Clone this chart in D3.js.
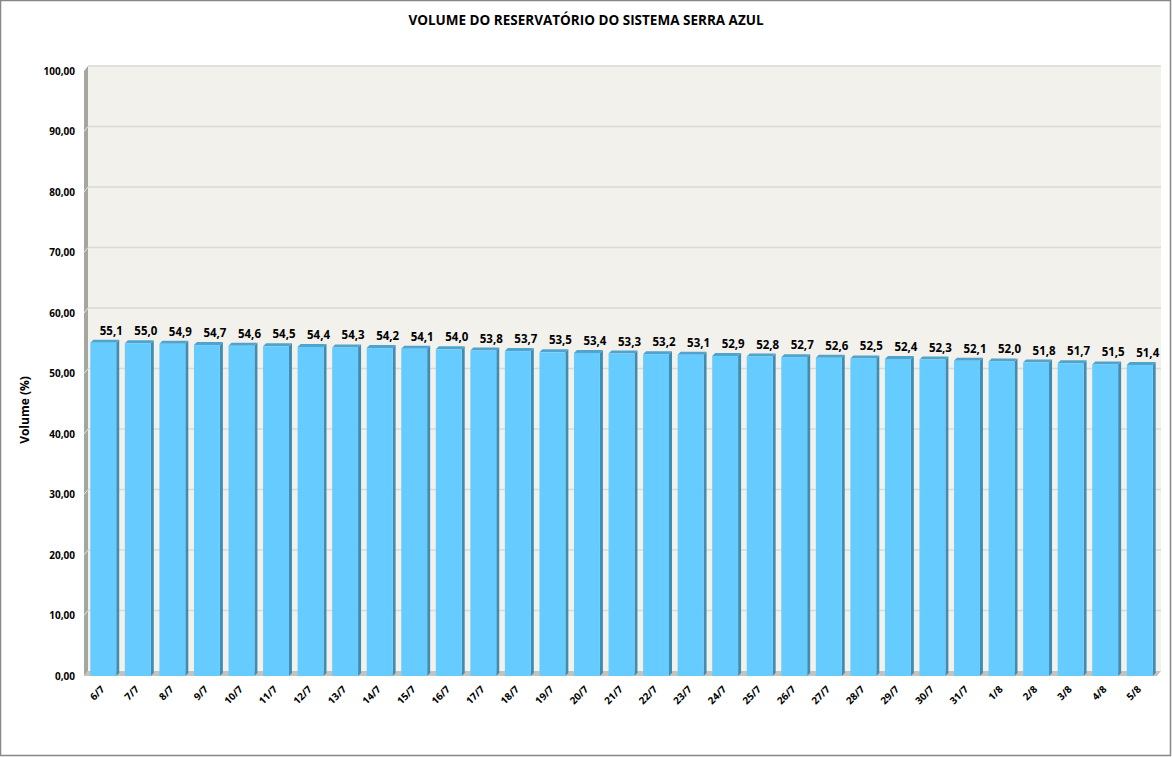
<!DOCTYPE html>
<html>
<head>
<meta charset="utf-8">
<script src="https://cdn.jsdelivr.net/npm/d3@7"></script>
<style>
  body { margin: 0; background: #fff; }
  svg { display: block; font-family: "Open Sans", "Liberation Sans", sans-serif; }
</style>
</head>
<body>
<svg width="1172" height="757"></svg>
<script>
// dados
const dias = ["6/7","7/7","8/7","9/7","10/7","11/7","12/7","13/7","14/7","15/7","16/7","17/7","18/7","19/7","20/7","21/7","22/7","23/7","24/7","25/7","26/7","27/7","28/7","29/7","30/7","31/7","1/8","2/8","3/8","4/8","5/8"];
const volumes = [55.1,55.0,54.9,54.7,54.6,54.5,54.4,54.3,54.2,54.1,54.0,53.8,53.7,53.5,53.4,53.3,53.2,53.1,52.9,52.8,52.7,52.6,52.5,52.4,52.3,52.1,52.0,51.8,51.7,51.5,51.4];
const ticksY = [0,10,20,30,40,50,60,70,80,90,100];

const svg = d3.select("svg");
const fmt = v => v.toFixed(2).replace(".", ",");
const fmt1 = v => v.toFixed(1).replace(".", ",");

// plano da frente
const x0 = 84, x1 = 1157, yb = 676, yt = 71;
const dx = 4, dy = -5;   // profundidade das paredes

const x = d3.scaleBand().domain(dias).range([86, 1157]).paddingInner(0.25).paddingOuter(0.125);
const y = d3.scaleLinear().domain([0, 100]).range([yb, yt]);

// borda externa
svg.append("rect")
    .attr("x", 0.5).attr("y", 0.5).attr("width", 1170).attr("height", 755)
    .style("fill", "#fff").style("stroke", "#878787").style("stroke-width", 1.5);

// titulo
svg.append("text")
    .attr("x", 586).attr("y", 25)
    .attr("text-anchor", "middle")
    .style("font-size", "13.5px").style("font-weight", "bold")
    .text("VOLUME DO RESERVATÓRIO DO SISTEMA SERRA AZUL");

// parede do fundo
svg.append("rect")
    .attr("x", x0 + dx).attr("y", y(100) + dy)
    .attr("width", x1 - x0).attr("height", yb - yt)
    .style("fill", "#F2F1EC");

// linhas de grade
svg.selectAll(".grade")
    .data(ticksY.filter(d => d > 0))
    .join("line")
    .attr("class", "grade")
    .attr("x1", x0 + dx).attr("x2", x1 + dx)
    .attr("y1", d => y(d) + dy).attr("y2", d => y(d) + dy)
    .style("stroke", "#D9D9D9").style("stroke-width", 1.5);

// parede lateral
svg.append("polygon")
    .attr("points", [[x0, y(100)], [x0 + dx, y(100) + dy], [x0 + dx, yb + dy], [x0, yb]].join(" "))
    .style("fill", "#A6A6A1");

// pequenas linhas de grade na parede lateral
svg.selectAll(".gradelat")
    .data(ticksY.filter(d => d > 0 && d < 100))
    .join("line")
    .attr("class", "gradelat")
    .attr("x1", x0).attr("x2", x0 + dx)
    .attr("y1", d => y(d)).attr("y2", d => y(d) + dy)
    .style("stroke", "#E6E6E6").style("stroke-width", 1);

// piso
svg.append("polygon")
    .attr("points", [[x0, yb], [x0 + dx, yb + dy], [x1 + dx, yb + dy], [x1, yb]].join(" "))
    .style("fill", "#C4C3BE");

// barras
const bd = 3, bdy = -3;
const barras = svg.selectAll(".barra")
    .data(volumes.map((v, i) => ({dia: dias[i], v: v})))
    .join("g")
    .attr("class", "barra");

barras.append("polygon")
    .attr("points", d => {
        const xr = x(d.dia) + x.bandwidth();
        return [[xr, y(d.v)], [xr + bd, y(d.v) + bdy], [xr + bd, yb + bdy], [xr, yb]].join(" ");
    })
    .style("fill", "#3F8DB3");

barras.append("polygon")
    .attr("points", d => {
        const xl = x(d.dia), xr = xl + x.bandwidth();
        return [[xl, y(d.v)], [xl + bd, y(d.v) + bdy], [xr + bd, y(d.v) + bdy], [xr, y(d.v)]].join(" ");
    })
    .style("fill", "#4FA3CC");

barras.append("rect")
    .attr("x", d => x(d.dia))
    .attr("y", d => y(d.v))
    .attr("width", x.bandwidth())
    .attr("height", d => yb - y(d.v))
    .style("fill", "#66CCFF");

// rotulos de valor
barras.append("text")
    .attr("x", d => x(d.dia) + x.bandwidth() / 2 + 8)
    .attr("y", d => y(d.v) - 8)
    .attr("text-anchor", "middle")
    .style("font-size", "11.5px").style("font-weight", "bold")
    .text(d => fmt1(d.v));

// eixo y
svg.selectAll(".roty")
    .data(ticksY)
    .join("text")
    .attr("class", "roty")
    .attr("x", 75)
    .attr("y", d => y(d) + 3.5)
    .attr("text-anchor", "end")
    .style("font-size", "10px").style("font-weight", "bold")
    .text(fmt);

// eixo x
svg.selectAll(".rotx")
    .data(dias)
    .join("text")
    .attr("class", "rotx")
    .attr("text-anchor", "end")
    .attr("transform", d => `translate(${x(d) + x.bandwidth() / 2 + 2},${yb + 14}) rotate(-45)`)
    .style("font-size", "10px").style("font-weight", "bold")
    .text(d => d);

// titulo do eixo y
svg.append("text")
    .attr("transform", "translate(29,410) rotate(-90)")
    .attr("text-anchor", "middle")
    .style("font-size", "12px").style("font-weight", "bold")
    .text("Volume (%)");
</script>
</body>
</html>
